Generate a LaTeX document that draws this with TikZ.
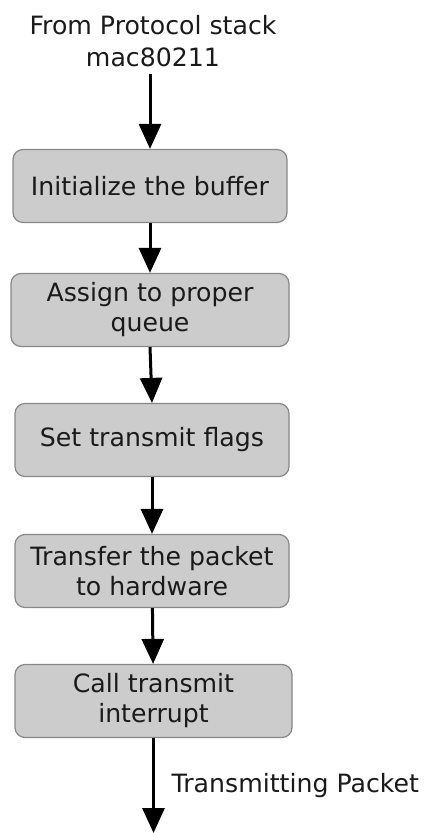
\documentclass[tikz,border=0pt]{standalone}
\usepackage{fontspec}
\setmainfont{DejaVu Sans}
\usetikzlibrary{arrows.meta}
\usetikzlibrary{positioning}
\definecolor{boxgray}{HTML}{CCCCCC}
\definecolor{edgegray}{HTML}{888888}
\definecolor{inkblack}{HTML}{1A1A1A}
\tikzset{
  stepbox/.style={draw=edgegray, fill=boxgray, rounded corners=5pt, line width=0.6pt,
    minimum width=137pt, minimum height=36.5pt, align=center, text=inkblack,
    font=\fontsize{12.6}{15}\selectfont},
  flow/.style={-{Triangle[width=11pt,length=12.5pt]}, line width=1.5pt},
}
\begin{document}
\begin{tikzpicture}[x=0.5pt, y=-0.5pt]
  \useasboundingbox (0,0) rectangle (426,833);

  \node[align=center, text=inkblack, font=\fontsize{12.6}{16}\selectfont] (src) at (153,41)
    {From Protocol stack\\mac80211};

  \node[stepbox] (init) at (150,186) {Initialize the buffer};
  \node[stepbox, minimum width=139pt] (queue) at (150,310) {Assign to proper\\queue};
  \node[stepbox] (flags) at (152,440) {Set transmit flags};
  \node[stepbox] (xfer) at (152,571) {Transfer the packet\\to hardware};
  \node[stepbox, minimum width=138.5pt] (irq) at (153.5,701) {Call transmit\\interrupt};
  \coordinate (out) at (153.5,833);

  \draw[flow] (src.south -| init) -- (init);
  \draw[flow] (init) -- (queue);
  \draw[flow] (queue.south) -- (flags.north);
  \draw[flow] (flags) -- (xfer);
  \draw[flow] (xfer) -- (irq);
  \draw[flow] (irq) -- node[right=5pt, text=inkblack, font=\fontsize{12.6}{15}\selectfont] (txlabel) {Transmitting Packet} (out);
\end{tikzpicture}
\end{document}
